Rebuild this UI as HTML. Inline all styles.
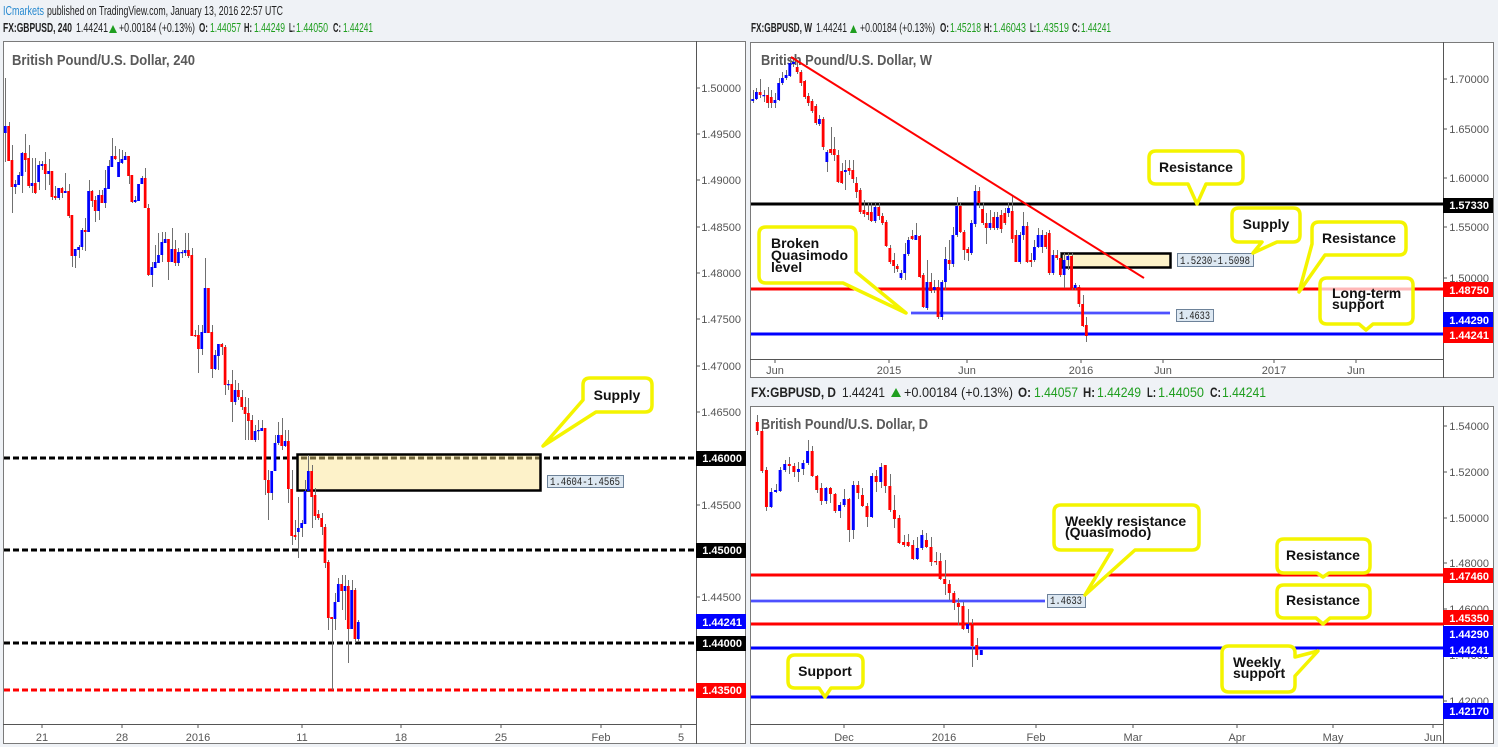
<!DOCTYPE html>
<html><head><meta charset="utf-8"><style>
html,body{margin:0;padding:0;background:#eff2f6;}
svg{display:block;font-family:"Liberation Sans",Arial,sans-serif;}
.ax{font-size:11px;fill:#555;}
.bx{font-size:11px;fill:#fff;font-weight:bold;}
.co{font-size:14px;font-weight:bold;fill:#111;}
.lb{font-size:11px;fill:#222;font-family:"Liberation Mono",monospace;}
.hd{font-size:13px;fill:#222;}
.b{font-weight:bold;}
.g{fill:#1f9e1f;}
.ti{font-size:15px;font-weight:bold;fill:#5a5a5a;}
</style></head><body>
<svg width="1498" height="747" viewBox="0 0 1498 747" xmlns="http://www.w3.org/2000/svg">
<rect x="0" y="0" width="1498" height="747" fill="#eff2f6"/>
<!-- headers -->
<text class="hd" x="3" y="15" textLength="41" lengthAdjust="spacingAndGlyphs" style="fill:#2789cf">ICmarkets</text>
<text class="hd" x="47" y="15" textLength="236" lengthAdjust="spacingAndGlyphs">published on TradingView.com, January 13, 2016 22:57 UTC</text>

<g class="hd">
<text class="b" x="3" y="32" textLength="69" lengthAdjust="spacingAndGlyphs">FX:GBPUSD, 240</text>
<text x="76" y="32" textLength="32" lengthAdjust="spacingAndGlyphs">1.44241</text>
<polygon points="109,33 117,33 113,25" fill="#1f9e1f"/>
<text x="119" y="32" textLength="76" lengthAdjust="spacingAndGlyphs">+0.00184 (+0.13%)</text>
<text class="b" x="199" y="32" textLength="9" lengthAdjust="spacingAndGlyphs">O:</text>
<text class="g" x="210" y="32" textLength="31" lengthAdjust="spacingAndGlyphs">1.44057</text>
<text class="b" x="244" y="32" textLength="8" lengthAdjust="spacingAndGlyphs">H:</text>
<text class="g" x="254" y="32" textLength="31" lengthAdjust="spacingAndGlyphs">1.44249</text>
<text class="b" x="289" y="32" textLength="6" lengthAdjust="spacingAndGlyphs">L:</text>
<text class="g" x="296" y="32" textLength="32" lengthAdjust="spacingAndGlyphs">1.44050</text>
<text class="b" x="333" y="32" textLength="8" lengthAdjust="spacingAndGlyphs">C:</text>
<text class="g" x="343" y="32" textLength="30" lengthAdjust="spacingAndGlyphs">1.44241</text>

<text class="b" x="751" y="32" textLength="61" lengthAdjust="spacingAndGlyphs">FX:GBPUSD, W</text>
<text x="816" y="32" textLength="31" lengthAdjust="spacingAndGlyphs">1.44241</text>
<polygon points="850,33 857,33 853.5,25" fill="#1f9e1f"/>
<text x="860" y="32" textLength="75" lengthAdjust="spacingAndGlyphs">+0.00184 (+0.13%)</text>
<text class="b" x="940" y="32" textLength="9" lengthAdjust="spacingAndGlyphs">O:</text>
<text class="g" x="950" y="32" textLength="31" lengthAdjust="spacingAndGlyphs">1.45218</text>
<text class="b" x="984" y="32" textLength="8" lengthAdjust="spacingAndGlyphs">H:</text>
<text class="g" x="993" y="32" textLength="33" lengthAdjust="spacingAndGlyphs">1.46043</text>
<text class="b" x="1030" y="32" textLength="6" lengthAdjust="spacingAndGlyphs">L:</text>
<text class="g" x="1036" y="32" textLength="33" lengthAdjust="spacingAndGlyphs">1.43519</text>
<text class="b" x="1072" y="32" textLength="8" lengthAdjust="spacingAndGlyphs">C:</text>
<text class="g" x="1081" y="32" textLength="30" lengthAdjust="spacingAndGlyphs">1.44241</text>
</g>
<g class="hd" style="font-size:14px">
<text class="b" x="751" y="397" textLength="85" lengthAdjust="spacingAndGlyphs">FX:GBPUSD, D</text>
<text x="842" y="397" textLength="43" lengthAdjust="spacingAndGlyphs">1.44241</text>
<polygon points="891,397 901,397 896,388" fill="#1f9e1f"/>
<text x="904" y="397" textLength="109" lengthAdjust="spacingAndGlyphs">+0.00184 (+0.13%)</text>
<text class="b" x="1018" y="397" textLength="13" lengthAdjust="spacingAndGlyphs">O:</text>
<text class="g" x="1034" y="397" textLength="44" lengthAdjust="spacingAndGlyphs">1.44057</text>
<text class="b" x="1083" y="397" textLength="12" lengthAdjust="spacingAndGlyphs">H:</text>
<text class="g" x="1097" y="397" textLength="44" lengthAdjust="spacingAndGlyphs">1.44249</text>
<text class="b" x="1147" y="397" textLength="9" lengthAdjust="spacingAndGlyphs">L:</text>
<text class="g" x="1158" y="397" textLength="46" lengthAdjust="spacingAndGlyphs">1.44050</text>
<text class="b" x="1210" y="397" textLength="11" lengthAdjust="spacingAndGlyphs">C:</text>
<text class="g" x="1222" y="397" textLength="44" lengthAdjust="spacingAndGlyphs">1.44241</text>
</g>

<!-- panels -->
<rect x="3.5" y="41.5" width="742" height="702" fill="#fff" stroke="#7a7a7a"/>
<rect x="750.5" y="42.5" width="743" height="335" fill="#fff" stroke="#7a7a7a"/>
<rect x="750.5" y="406.5" width="743" height="337" fill="#fff" stroke="#7a7a7a"/>
<g stroke="#555" stroke-width="1">
<line x1="696.5" y1="41" x2="696.5" y2="744"/>
<line x1="3" y1="724.5" x2="696" y2="724.5"/>
<line x1="1443.5" y1="42" x2="1443.5" y2="378"/>
<line x1="750" y1="359.5" x2="1443" y2="359.5"/>
<line x1="1443.5" y1="406" x2="1443.5" y2="744"/>
<line x1="750" y1="724.5" x2="1443" y2="724.5"/>
</g>

<!-- titles -->
<text class="ti" x="12" y="65" textLength="183" lengthAdjust="spacingAndGlyphs">British Pound/U.S. Dollar, 240</text>
<text class="ti" x="761" y="65" textLength="171" lengthAdjust="spacingAndGlyphs">British Pound/U.S. Dollar, W</text>
<text class="ti" x="761" y="429" textLength="167" lengthAdjust="spacingAndGlyphs">British Pound/U.S. Dollar, D</text>

<!-- LEFT: lines -->
<g stroke-width="3" stroke-dasharray="6 3" fill="none">
<line x1="4" y1="458" x2="696" y2="458" stroke="#000"/>
<line x1="4" y1="550" x2="696" y2="550" stroke="#000"/>
<line x1="4" y1="643" x2="696" y2="643" stroke="#000"/>
<line x1="4" y1="690" x2="696" y2="690" stroke="#ff0000"/>
</g>
<rect x="297.5" y="454.5" width="243" height="36" fill="rgb(250,227,136)" fill-opacity="0.45" stroke="#000" stroke-width="2.5"/>

<!-- WEEKLY lines -->
<line x1="751" y1="204" x2="1443" y2="204" stroke="#000" stroke-width="3"/>
<line x1="751" y1="289" x2="1443" y2="289" stroke="#ff0000" stroke-width="3"/>
<line x1="751" y1="334" x2="1443" y2="334" stroke="#0000ff" stroke-width="3"/>
<line x1="911" y1="313" x2="1170" y2="313" stroke="#b9c0ff" stroke-width="4"/>
<line x1="911" y1="313" x2="1170" y2="313" stroke="#2b2bff" stroke-width="1.5"/>
<rect x="1061.5" y="253.5" width="109" height="14" fill="rgb(250,227,136)" fill-opacity="0.45" stroke="#000" stroke-width="2.5"/>

<!-- DAILY lines -->
<line x1="751" y1="575" x2="1443" y2="575" stroke="#ff0000" stroke-width="3"/>
<line x1="751" y1="624" x2="1443" y2="624" stroke="#ff0000" stroke-width="3"/>
<line x1="751" y1="648" x2="1443" y2="648" stroke="#0000ff" stroke-width="3"/>
<line x1="751" y1="697" x2="1443" y2="697" stroke="#0000ff" stroke-width="3"/>
<line x1="751" y1="601" x2="1045" y2="601" stroke="#b9c0ff" stroke-width="4"/>
<line x1="751" y1="601" x2="1045" y2="601" stroke="#2b2bff" stroke-width="1.5"/>

<!-- candles -->
<g id="cL"></g>
<g id="cW"></g>
<g id="cD"></g>

<!-- weekly trend line -->
<line x1="791" y1="57" x2="1144" y2="278" stroke="#ff0000" stroke-width="2"/>

<!-- box labels -->
<rect x="547.5" y="475.5" width="76" height="12" fill="#dde8f2" stroke="#6d8299"/>
<text class="lb" x="550" y="485" textLength="70" lengthAdjust="spacingAndGlyphs">1.4604-1.4565</text>
<rect x="1177.5" y="253.5" width="76" height="13" fill="#dde8f2" stroke="#6d8299"/>
<text class="lb" x="1180" y="264" textLength="70" lengthAdjust="spacingAndGlyphs">1.5230-1.5098</text>
<rect x="1176.5" y="309.5" width="37" height="12" fill="#dde8f2" stroke="#6d8299"/>
<text class="lb" x="1179" y="319" textLength="31" lengthAdjust="spacingAndGlyphs">1.4633</text>
<rect x="1047.5" y="594.5" width="38" height="13" fill="#dde8f2" stroke="#6d8299"/>
<text class="lb" x="1050" y="604" textLength="32" lengthAdjust="spacingAndGlyphs">1.4633</text>

<!-- callouts -->
<g fill="#fff" stroke="#f4f400" stroke-width="3.5" stroke-linejoin="round">
<path d="M590,378 H645 Q652,378 652,385 V405 Q652,412 645,412 H596 L543,446 L583,400 V385 Q583,378 590,378 Z"/>
<path d="M766,227 H849 Q856,227 856,234 V272 L906,313 L843,283 H766 Q759,283 759,276 V234 Q759,227 766,227 Z"/>
<path d="M1156,151 H1236 Q1243,151 1243,158 V177 Q1243,184 1236,184 H1206 L1197,204 L1188,184 H1156 Q1149,184 1149,177 V158 Q1149,151 1156,151 Z"/>
<path d="M1239,208 H1293 Q1300,208 1300,215 V235 Q1300,242 1293,242 H1277 L1253,253 L1262,242 H1239 Q1232,242 1232,235 V215 Q1232,208 1239,208 Z"/>
<path d="M1319,222 H1399 Q1406,222 1406,229 V248 Q1406,255 1399,255 H1325 L1299,292 L1312,244 V229 Q1312,222 1319,222 Z"/>
<path fill-opacity="0.72" d="M1327,278 H1406 Q1413,278 1413,285 V317 Q1413,324 1406,324 H1373 L1366,330 L1359,324 H1327 Q1320,324 1320,317 V285 Q1320,278 1327,278 Z"/>
<path d="M1061,505 H1192 Q1199,505 1199,512 V543 Q1199,550 1192,550 H1135 L1085,595 L1112,550 H1061 Q1054,550 1054,543 V512 Q1054,505 1061,505 Z"/>
<path d="M1284,539 H1363 Q1370,539 1370,546 V566 Q1370,573 1363,573 H1329 L1323,577 L1317,573 H1284 Q1277,573 1277,566 V546 Q1277,539 1284,539 Z"/>
<path d="M1284,585 H1363 Q1370,585 1370,592 V611 Q1370,618 1363,618 H1330 L1323,624 L1316,618 H1284 Q1277,618 1277,611 V592 Q1277,585 1284,585 Z"/>
<path d="M1229,646 H1288 Q1295,646 1295,653 V657 L1318,651 L1295,676 V685 Q1295,692 1288,692 H1229 Q1222,692 1222,685 V653 Q1222,646 1229,646 Z"/>
<path d="M795,655 H856 Q863,655 863,662 V681 Q863,688 856,688 H831 L825,697 L819,688 H795 Q788,688 788,681 V662 Q788,655 795,655 Z"/>
</g>
<g class="co">
<text x="617" y="400" text-anchor="middle">Supply</text>
<text x="771" y="248">Broken</text>
<text x="771" y="260">Quasimodo</text>
<text x="771" y="272">level</text>
<text x="1196" y="172" text-anchor="middle">Resistance</text>
<text x="1266" y="229" text-anchor="middle">Supply</text>
<text x="1359" y="243" text-anchor="middle">Resistance</text>
<text x="1332" y="298">Long-term</text>
<text x="1332" y="309">support</text>
<text x="1065" y="526">Weekly resistance</text>
<text x="1065" y="537">(Quasimodo)</text>
<text x="1323" y="560" text-anchor="middle">Resistance</text>
<text x="1323" y="605" text-anchor="middle">Resistance</text>
<text x="1233" y="667">Weekly</text>
<text x="1233" y="678">support</text>
<text x="825" y="676" text-anchor="middle">Support</text>
</g>

<!-- LEFT price axis -->
<g stroke="#555">
<path d="M696 88h4M696 134h4M696 180h4M696 227h4M696 273h4M696 319h4M696 366h4M696 412h4M696 458h4M696 505h4M696 550h4M696 597h4M696 643h4M696 690h4"/>
<path d="M1443 79h4M1443 129h4M1443 178h4M1443 227h4M1443 278h4M1443 204h4M1443 289h4M1443 334h4"/>
<path d="M1443 426h4M1443 472h4M1443 518h4M1443 563h4M1443 609h4M1443 655h4M1443 701h4"/>
<path d="M42 724v4M122 724v4M198 724v4M302 724v4M401 724v4M501 724v4M601 724v4M681 724v4"/>
<path d="M775 359v4M889 359v4M967 359v4M1081 359v4M1163 359v4M1274 359v4M1356 359v4"/>
<path d="M844 724v4M944 724v4M1036 724v4M1133 724v4M1237 724v4M1333 724v4M1433 724v4"/>
</g>
<g class="ax" text-anchor="end">
<text x="741" y="92">1.50000</text>
<text x="741" y="138">1.49500</text>
<text x="741" y="184">1.49000</text>
<text x="741" y="231">1.48500</text>
<text x="741" y="277">1.48000</text>
<text x="741" y="323">1.47500</text>
<text x="741" y="370">1.47000</text>
<text x="741" y="416">1.46500</text>
<text x="741" y="509">1.45500</text>
<text x="741" y="601">1.44500</text>
<text x="1489" y="83">1.70000</text>
<text x="1489" y="133">1.65000</text>
<text x="1489" y="182">1.60000</text>
<text x="1489" y="231">1.55000</text>
<text x="1489" y="282">1.50000</text>
<text x="1489" y="430">1.54000</text>
<text x="1489" y="476">1.52000</text>
<text x="1489" y="522">1.50000</text>
<text x="1489" y="567">1.48000</text>
<text x="1489" y="613">1.46000</text>
<text x="1489" y="659">1.44000</text>
<text x="1489" y="705">1.42000</text>
</g>
<!-- price boxes -->
<rect x="696" y="451" width="50" height="15" fill="#000"/>
<rect x="696" y="543" width="50" height="15" fill="#000"/>
<rect x="696" y="614" width="50" height="15" fill="#0000ff"/>
<rect x="696" y="636" width="50" height="15" fill="#000"/>
<rect x="696" y="683" width="50" height="15" fill="#ff0000"/>
<rect x="1443" y="198" width="50" height="15" fill="#000"/>
<rect x="1443" y="282" width="50" height="15" fill="#ff0000"/>
<rect x="1443" y="312" width="50" height="15" fill="#0000ff"/>
<rect x="1443" y="327" width="50" height="16" fill="#ff0000"/>
<rect x="1443" y="568" width="50" height="15" fill="#ff0000"/>
<rect x="1443" y="610" width="50" height="15" fill="#ff0000"/>
<rect x="1443" y="626" width="50" height="16" fill="#0000ff"/>
<rect x="1443" y="642" width="50" height="15" fill="#0000ff"/>
<rect x="1443" y="703" width="50" height="16" fill="#0000ff"/>
<g class="bx" text-anchor="end">
<text x="742" y="462">1.46000</text>
<text x="742" y="554">1.45000</text>
<text x="742" y="626">1.44241</text>
<text x="742" y="647">1.44000</text>
<text x="742" y="694">1.43500</text>
<text x="1489" y="209">1.57330</text>
<text x="1489" y="294">1.48750</text>
<text x="1489" y="324">1.44290</text>
<text x="1489" y="339">1.44241</text>
<text x="1489" y="580">1.47460</text>
<text x="1489" y="622">1.45350</text>
<text x="1489" y="638">1.44290</text>
<text x="1489" y="654">1.44241</text>
<text x="1489" y="715">1.42170</text>
</g>
<!-- time labels -->
<g class="ax" text-anchor="middle">
<text x="42" y="741">21</text>
<text x="122" y="741">28</text>
<text x="198" y="741">2016</text>
<text x="302" y="741">11</text>
<text x="401" y="741">18</text>
<text x="501" y="741">25</text>
<text x="601" y="741">Feb</text>
<text x="681" y="741">5</text>
<text x="775" y="374">Jun</text>
<text x="889" y="374">2015</text>
<text x="967" y="374">Jun</text>
<text x="1081" y="374">2016</text>
<text x="1163" y="374">Jun</text>
<text x="1274" y="374">2017</text>
<text x="1356" y="374">Jun</text>
<text x="844" y="741">Dec</text>
<text x="944" y="741">2016</text>
<text x="1036" y="741">Feb</text>
<text x="1133" y="741">Mar</text>
<text x="1237" y="741">Apr</text>
<text x="1333" y="741">May</text>
<text x="1433" y="741">Jun</text>
</g>
</svg>
<script>
(function(){
var NS="http://www.w3.org/2000/svg";
function draw(id,x0,step,bw,data){
  var g=document.getElementById(id),w="",r="",b="";
  data.forEach(function(c,i){
    var x=x0+i*step,t=Math.min(c[0],c[1]),bt=Math.max(c[0],c[1]);
    var h=Math.min(c[3],t),l=Math.max(c[4],bt);
    var xx=Math.round(x)+0.5;
    w+="M"+xx+" "+h+"V"+l;
    var hh=Math.max(bt-t,1.2);
    var s="M"+(x-bw/2).toFixed(2)+" "+t+"h"+bw+"v"+hh+"h"+(-bw)+"z";
    if(c[2])b+=s;else r+=s;
  });
  function p(d,attrs){var e=document.createElementNS(NS,"path");e.setAttribute("d",d);for(var k in attrs)e.setAttribute(k,attrs[k]);g.appendChild(e);}
  p(w,{stroke:"#707070","stroke-width":"1",fill:"none"});
  p(r,{fill:"#ff0000"});
  p(b,{fill:"#0000ff"});
}
var L=[[126,133,1,78,162],[126,161,0,122,161],[160,187,0,145,213],[184,187,1,180,194],[175,185,1,172,185],[153,176,1,152,193],[153,160,0,134,172],[158,186,0,145,188],[183,186,1,158,193],[183,193,0,158,194],[165,182,1,161,190],[164,166,1,161,170],[164,174,0,152,190],[171,174,1,159,185],[171,197,0,171,200],[196,198,0,186,200],[188,198,1,188,200],[188,193,0,187,198],[191,193,1,173,193],[191,216,0,184,218],[215,256,0,215,267],[249,256,1,249,268],[247,250,1,245,258],[230,247,1,228,250],[230,232,0,218,251],[191,232,1,180,232],[191,201,0,190,207],[200,211,0,196,222],[195,211,1,190,220],[195,203,0,190,203],[188,203,1,170,208],[166,189,1,160,189],[156,167,1,138,167],[156,159,0,146,160],[162,177,1,149,177],[159,163,1,150,164],[156,160,1,152,160],[156,176,0,156,184],[175,202,0,175,203],[200,202,1,196,203],[184,201,1,184,201],[178,184,1,176,184],[178,208,0,168,208],[208,275,0,204,276],[267,275,1,262,287],[262,268,1,245,268],[255,263,1,233,263],[242,255,1,232,262],[239,243,1,232,243],[239,262,0,240,280],[249,262,1,228,262],[249,263,0,240,266],[252,263,1,248,266],[252,253,1,250,258],[250,253,1,233,256],[250,256,0,233,258],[255,336,0,248,336],[335,336,0,330,337],[335,349,0,325,373],[332,349,1,325,355],[288,333,1,258,333],[288,333,0,288,333],[332,369,0,325,378],[355,369,1,350,370],[344,356,1,344,370],[344,347,0,343,355],[347,385,0,345,395],
[384,385,1,380,390],[384,402,0,370,422],[390,402,1,380,405],[390,397,0,383,400],[397,407,0,390,410],[407,414,0,397,440],[413,421,0,398,440],[420,440,0,415,440],[431,440,1,425,442],[430,431,1,420,440],[428,431,1,420,431],[428,480,0,428,495],[480,493,0,470,520],[471,493,1,471,500],[443,471,1,435,471],[435,443,1,422,445],[435,446,0,418,450],[441,446,1,430,447],[441,489,0,430,503],[489,536,0,470,545],[535,537,0,520,540],[528,532,1,497,558],[523,528,1,520,537],[491,524,1,480,524],[471,491,1,455,491],[471,497,0,465,528],[495,516,0,488,520],[514,518,0,510,520],[518,527,0,513,535],[527,563,0,524,568],[562,618,0,560,630],[617,619,0,617,690],[602,619,1,593,630],[584,602,1,578,602],[584,591,0,575,610],[586,591,1,575,620],[586,629,0,580,663],[590,629,1,580,629],[590,639,0,588,643],[622,639,1,620,642]];
var W=[[99,101,1,90,103],[92,99,1,88,100],[92,95,0,79,98],[95,96,1,90,102],[95,103,0,87,108],[97,103,0,90,108],[100,103,1,93,108],[83,100,1,78,101],[78,83,1,72,85],[75,78,1,70,80],[63,76,1,58,77],[62,64,1,57,67],[67,72,0,62,74],[72,83,0,70,86],[81,97,0,80,99],[96,103,0,93,106],[101,111,0,99,113],[106,123,0,104,125],[119,124,1,115,126],[119,147,0,117,150],[152,162,1,150,172],[149,153,0,127,155],[149,155,0,137,161],[155,182,0,150,183],[171,183,0,163,184],[170,172,1,160,190],[168,171,0,160,175],[170,179,0,160,183],[183,192,0,177,198],[190,212,0,188,214],[210,214,0,200,217],[212,215,0,203,220],[212,221,0,203,222],[207,221,1,202,223],[207,216,0,202,220],[216,223,0,213,225],[222,246,0,220,247],[248,262,0,245,264],[260,266,0,253,273],[266,269,0,264,272],[273,278,1,270,280],[254,273,1,243,280],[240,254,1,237,256],[236,239,0,230,240],[235,240,1,223,240],[236,277,0,235,278],[275,307,0,273,308],[282,308,1,260,310],[282,291,0,273,293],[287,290,1,280,293],[287,317,0,280,319],[282,317,1,280,320],[259,282,1,247,290],[260,264,0,240,270],[235,264,1,227,267],[206,235,1,197,237],[206,232,0,203,233],[232,250,0,230,260],[249,253,0,247,261],[223,253,1,220,255],[191,224,1,185,227],[191,203,0,187,208],[209,223,0,203,225],[223,228,0,213,244],[223,228,1,210,230],[217,228,0,212,230],[217,228,1,212,230],[215,229,0,210,233],[213,223,0,208,225],[208,213,1,203,217],[211,239,0,195,243],[235,262,0,230,262],[235,262,1,232,264],[226,235,1,212,240],[226,262,0,222,263],[260,262,0,253,267],[247,260,1,240,262],[235,247,1,228,248],[235,247,1,230,253],[235,247,0,232,249],[233,273,0,230,275],[255,273,1,250,275],[255,258,0,250,260],[258,275,0,253,277],[260,275,1,253,288],[256,260,1,253,270],[256,288,0,253,290],[285,288,1,283,290],[287,304,0,285,307],[304,326,0,295,327],[325,336,0,317,342]];
var D=[[422,431,0,415,435],[431,471,0,429,473],[470,507,0,467,511],[492,507,1,488,508],[490,492,1,484,493],[470,491,1,467,492],[464,470,1,460,472],[464,466,0,457,474],[466,472,0,463,477],[469,472,1,462,482],[463,469,1,460,475],[451,463,1,440,465],[451,476,0,446,477],[476,490,0,475,493],[488,501,0,483,505],[488,501,1,487,504],[488,494,0,487,503],[494,511,0,493,513],[505,511,1,502,518],[499,505,1,489,507],[499,530,0,498,542],[485,530,1,481,539],[485,493,0,481,499],[495,506,0,488,507],[506,517,0,503,527],[476,517,1,473,518],[476,482,0,470,492],[467,482,1,463,488],[465,486,0,465,493],[486,510,0,474,512],[510,519,0,495,528],[518,543,0,515,544],[542,545,0,535,547],[542,546,0,534,547],[545,559,0,540,560],[548,559,1,537,560],[535,548,1,530,550],[540,547,0,533,548],[547,562,0,537,566],[561,562,0,552,565],[561,579,0,553,580],[579,584,0,560,595],[584,593,0,580,600],[593,603,0,591,610],[603,607,0,598,625],[606,629,0,602,630],[624,629,1,609,633],[624,646,0,619,667],[645,655,0,638,660],[650,655,1,650,655]];
draw("cL",5.3,3.33,2.7,L);
draw("cW",752.7,3.707,2.8,W);
draw("cD",757.3,4.571,3,D);
})();
</script>
</body></html>
